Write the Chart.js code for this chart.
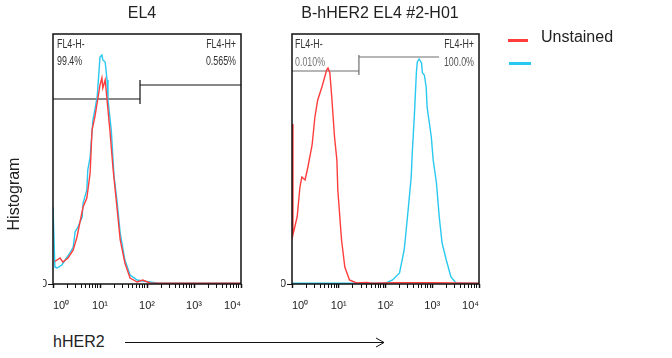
<!DOCTYPE html>
<html><head><meta charset="utf-8">
<script src="https://cdn.jsdelivr.net/npm/chart.js@4.4.1/dist/chart.umd.min.js"></script>
<style>
html,body{margin:0;padding:0;background:#fff;}
#wrap{position:relative;width:672px;height:358px;overflow:hidden;font-family:"Liberation Sans",Arial,sans-serif;color:#222;background:#fff;}
canvas{position:absolute;top:0;}
#cA{left:0;} #cB{left:250px;}
.t{position:absolute;white-space:nowrap;}
.lg{position:absolute;height:3px;}
</style></head><body>
<div id="wrap">
<canvas id="cA" width="286" height="320"></canvas>
<canvas id="cB" width="272" height="320"></canvas>
<div class="t" style="left:14px;top:194px;font-size:16px;line-height:18px;transform:translate(-50%,-50%) rotate(-90deg);">Histogram</div>
<div class="t" style="left:53px;top:333px;font-size:16px;line-height:18px;">hHER2</div>
<svg style="position:absolute;left:0;top:0" width="672" height="358">
<line x1="125" y1="342.5" x2="384" y2="342.5" stroke="#111" stroke-width="1"/>
<polyline points="376,338 384,342.5 376,347" fill="none" stroke="#111" stroke-width="1"/>
</svg>
<div class="lg" style="left:508px;top:39px;width:20px;background:#ff3d3d;"></div>
<div class="t" style="left:541px;top:28px;font-size:16px;line-height:18px;">Unstained</div>
<div class="lg" style="left:509px;top:62px;width:22px;background:#28c8f0;"></div>
<div class="t" style="left:541px;top:52px;font-size:16px;line-height:18px;"></div>
</div>
<script>
// ---- tick definitions ----
const DECADE_TICKS = [1,2,3,4,5,6,7,8,9,10,20,30,40,50,60,70,80,90,100,200,300,400,500,600,700,800,900,1000,2000,3000,4000,5000,6000,7000,8000,9000,10000];
const X_TICK_LABELS = {1:'10⁰',10:'10¹',100:'10²',1000:'10³',10000:'10⁴'};
const Y_TICKS = [0];

// ---- panel titles / series names ----
const panelTitles = ['EL4', 'B-hHER2 EL4 #2-H01'];
const seriesNames = ['Unstained', ''];

// ---- EL4 panel (x as log10 of fluorescence, y as relative count) ----
const el4RedExp   = [0.04,0.15,0.21,0.32,0.43,0.51,0.57,0.64,0.72,0.79,0.83,0.89,0.96,1.00,1.04,1.06,1.11,1.15,1.21,1.28,1.36,1.43,1.53,1.64,1.79,1.91,2.06,2.5,3.0,3.5,4.0];
const el4RedCount = [9.0,10.4,8.8,10.4,13.6,18.8,24.4,30.8,34.4,44.4,61.6,66.8,74.8,79.6,82.4,78.4,81.6,73.6,61.6,45.6,30.8,17.6,8.4,2.4,0.8,1.6,0.4,0.3,0.3,0.3,0.3];
const el4BlueExp   = [0.0,0.04,0.085,0.19,0.30,0.36,0.43,0.47,0.53,0.62,0.64,0.72,0.74,0.79,0.85,0.94,1.00,1.04,1.06,1.11,1.15,1.17,1.24,1.28,1.30,1.36,1.43,1.53,1.64,1.79,1.91,2.21,2.6,3.0,3.5,4.0];
const el4BlueCount = [30.8,6.8,6.4,7.6,10.8,12.4,14.8,20.8,22.8,26.8,32.4,37.6,45.6,50.8,65.6,74.8,90.8,91.6,89.6,88.8,81.6,73.6,61.6,49.0,43.0,33.6,20.4,9.6,3.6,1.6,1.2,0.4,0.3,0.3,0.3,0.3];
const el4GateX = [1, 71, 71, 71, 71, 10000];
const el4GateY = [74, 74, 72, 81.6, 79.6, 79.6];
const el4GateText = ['FL4-H-', '99.4%', 'FL4-H+', '0.565%'];

// ---- B-hHER2 EL4 #2-H01 panel ----
const her2RedExp   = [0.0,0.02,0.11,0.17,0.21,0.28,0.34,0.43,0.49,0.55,0.64,0.70,0.74,0.77,0.81,0.85,0.91,0.96,0.98,1.06,1.13,1.23,1.38,1.6,1.7,2.2,3.0,3.5,4.0];
const her2RedCount = [64.0,19.6,26.8,38.8,42.8,41.6,46.8,55.6,66.8,73.6,78.8,82.8,85.6,86.4,84.4,74.8,58.8,49.6,37.6,17.6,6.8,1.6,0.4,0.6,0.3,0.5,0.5,0.4,0.3];
const her2BlueExp   = [0.0,1.0,2.0,2.15,2.30,2.40,2.47,2.55,2.57,2.62,2.66,2.68,2.72,2.77,2.79,2.83,2.87,2.89,2.98,3.02,3.09,3.15,3.21,3.30,3.40,3.51,3.7,4.0];
const her2BlueCount = [0.3,0.3,0.3,1.6,4.4,13.6,26.8,42.8,51.6,68.4,84.4,88.8,90.0,88.4,84.4,83.6,78.8,70.8,58.8,49.6,40.4,26.8,16.4,9.6,2.8,0.4,0.3,0.3];
const her2GateX = [1, 27, 27, 27, 27, 1400];
const her2GateY = [85.2, 85.2, 83.6, 91.6, 90.8, 90.8];
const her2GateText = ['FL4-H-', '0.010%', 'FL4-H+', '100.0%'];

Chart.defaults.font.family = '"Liberation Sans", Arial, sans-serif';
Chart.defaults.color = '#222';

const toPts = (ex, cy) => ex.map((e, i) => ({x: Math.pow(10, e), y: cy[i]}));
const toXY = (xs, ys) => xs.map((x, i) => ({x, y: ys[i]}));

const frameAndGates = {
  id: 'frameAndGates',
  afterDatasetsDraw(chart, args, opts) {
    const {ctx, chartArea: a} = chart;
    ctx.save();
    ctx.strokeStyle = '#111';
    ctx.lineWidth = 1.5;
    ctx.strokeRect(a.left, a.top, a.width, a.height);
    ctx.font = '12px "Liberation Sans", Arial, sans-serif';
    ctx.textBaseline = 'middle';
    (opts.labels || []).forEach(l => {
      ctx.save();
      const x = l.side === 'left' ? a.left + l.dx : a.right + l.dx;
      ctx.translate(x, a.top + l.dy);
      ctx.scale(0.74, 1);
      ctx.textAlign = l.side;
      ctx.fillStyle = l.color;
      ctx.fillText(l.text, 0, 0);
      ctx.restore();
    });
    ctx.restore();
  }
};

function makeChart(id, title, pad, yWidth, red, blue, gate, gateColor, labels) {
  return new Chart(document.getElementById(id), {
    type: 'line',
    data: {
      datasets: [
        {label: seriesNames[0], data: red, borderColor: '#ff3d3d', borderWidth: 1.4, pointRadius: 0, tension: 0},
        {label: seriesNames[1], data: blue, borderColor: '#28c8f0', borderWidth: 1.4, pointRadius: 0, tension: 0},
        {label: 'gate', data: gate, borderColor: gateColor, borderWidth: 1.2, pointRadius: 0, tension: 0, borderJoinStyle: 'bevel'}
      ]
    },
    options: {
      responsive: false,
      animation: false,
      devicePixelRatio: 1,
      layout: {padding: {left: pad[0], right: pad[1], top: 0, bottom: 0}},
      plugins: {
        legend: {display: false},
        tooltip: {enabled: false},
        title: {display: true, text: title, color: '#222', font: {size: 16, weight: 'normal'}, padding: {top: 4, bottom: 10.8}},
        frameAndGates: {labels}
      },
      scales: {
        x: {
          type: 'logarithmic', min: 1, max: 10000,
          afterBuildTicks: s => { s.ticks = DECADE_TICKS.map(v => ({value: v})); },
          afterFit: s => { s.height = 36; },
          border: {display: false},
          grid: {drawOnChartArea: false, drawTicks: true, tickLength: 4, tickColor: '#111',
                 tickWidth: c => (c.tick && X_TICK_LABELS[c.tick.value] ? 1.5 : 1)},
          ticks: {autoSkip: false, maxRotation: 0, minRotation: 0, align: 'inner', padding: 11,
                  color: '#222', font: {size: 11}, callback: v => X_TICK_LABELS[v] || ''}
        },
        y: {
          min: 0, max: 100,
          afterBuildTicks: s => { s.ticks = Y_TICKS.map(v => ({value: v})); },
          afterFit: s => { s.width = yWidth; },
          border: {display: false},
          grid: {drawOnChartArea: false, drawTicks: true, tickLength: 5, tickColor: '#111'},
          ticks: {padding: 1, color: '#222', font: {size: 11}}
        }
      }
    },
    plugins: [frameAndGates]
  });
}

makeChart('cA', panelTitles[0], [43, 45], 10,
  toPts(el4RedExp, el4RedCount), toPts(el4BlueExp, el4BlueCount),
  toXY(el4GateX, el4GateY), '#111',
  [
    {text: el4GateText[0], side: 'left', dx: 4, dy: 11, color: '#333'},
    {text: el4GateText[1], side: 'left', dx: 4, dy: 28, color: '#333'},
    {text: el4GateText[2], side: 'right', dx: -5, dy: 11, color: '#333'},
    {text: el4GateText[3], side: 'right', dx: -5, dy: 28, color: '#333'}
  ]);

makeChart('cB', panelTitles[1], [31, 43], 11,
  toPts(her2RedExp, her2RedCount), toPts(her2BlueExp, her2BlueCount),
  toXY(her2GateX, her2GateY), '#6e6e6e',
  [
    {text: her2GateText[0], side: 'left', dx: 3, dy: 11, color: '#333'},
    {text: her2GateText[1], side: 'left', dx: 3, dy: 29, color: '#777'},
    {text: her2GateText[2], side: 'right', dx: -5, dy: 11, color: '#333'},
    {text: her2GateText[3], side: 'right', dx: -5, dy: 29, color: '#555'}
  ]);
</script>
</body></html>
